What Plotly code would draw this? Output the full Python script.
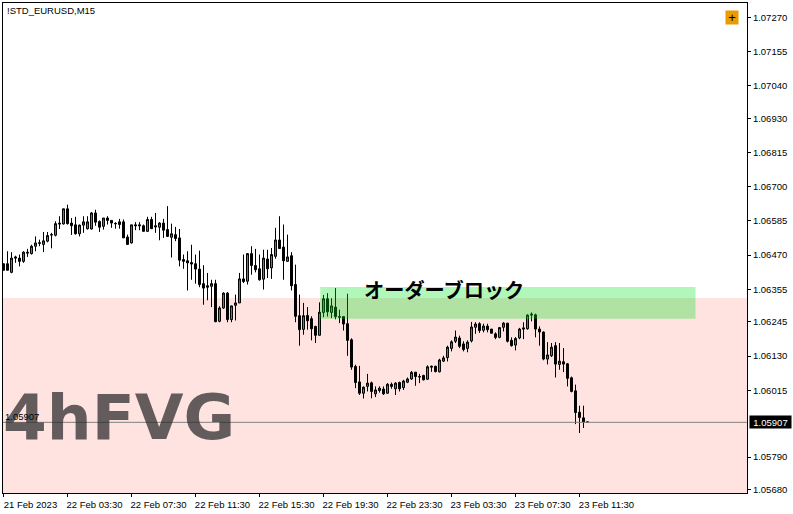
import plotly.graph_objects as go

SYMBOL = "!STD_EURUSD,M15"
LAST_PRICE = 1.05907
PRICE_TICKS = [1.07270, 1.07155, 1.07040, 1.06930, 1.06815, 1.06700, 1.06585, 1.06470,
               1.06355, 1.06245, 1.06130, 1.06015, 1.05790, 1.05680]
TIME_TICK_BARS = [0, 16, 32, 48, 64, 80, 96, 112, 128, 144]
TIME_TICK_LABELS = ["21 Feb 2023", "22 Feb 03:30", "22 Feb 07:30", "22 Feb 11:30", "22 Feb 15:30",
                    "22 Feb 19:30", "22 Feb 23:30", "23 Feb 03:30", "23 Feb 07:30", "23 Feb 11:30"]
FVG_TOP = 1.06326
ORDER_BLOCK = [1.06256, 1.06363]
ORDER_BLOCK_BARS = [79.2, 173]

# prices in points (1e-5)
opens = [106441,106441,106412,106464,106460,106449,106480,106475,106500,106512,106506,106517,106539,106537,106578,106575,
         106626,106578,106572,106542,106571,106559,106558,106612,106583,106567,106595,106587,106577,106582,106582,106531,
         106511,106572,106572,106569,106550,106590,106569,106564,106578,106556,106530,106539,106528,106455,106451,106445,
         106441,106423,106374,106367,106365,106374,106247,106292,106342,106253,106301,106309,106390,106382,106475,106435,
         106424,106389,106457,106427,106466,106521,106497,106449,106468,106371,106266,106220,106267,106256,106230,106200,
         106277,106323,106277,106295,106263,106263,106239,106185,106095,106043,106005,106028,106040,106003,106014,106019,
         106005,106035,106020,106041,106024,106042,106053,106076,106061,106065,106052,106096,106096,106077,106113,106125,
         106156,106180,106191,106171,106156,106181,106227,106239,106217,106231,106221,106205,106193,106227,106241,106183,
         106167,106191,106225,106222,106268,106269,106221,106211,106120,106131,106165,106102,106111,106104,106057,106013,
         105941,105922,105908]
highs = [106441,106483,106480,106468,106472,106483,106491,106505,106533,106522,106548,106548,106545,106584,106601,106626,
         106640,106595,106599,106573,106601,106601,106615,106623,106587,106595,106601,106587,106581,106592,106590,106539,
         106572,106581,106581,106573,106599,106599,106612,106581,106592,106635,106576,106565,106558,106472,106483,106505,
         106472,106485,106436,106410,106387,106387,106298,106345,106346,106300,106337,106410,106472,106477,106500,106491,
         106472,106488,106488,106494,106562,106601,106573,106539,106480,106438,106337,106309,106295,106264,106232,106311,
         106336,106342,106325,106359,106286,106263,106340,106190,106101,106097,106028,106070,106044,106028,106028,106028,
         106039,106041,106042,106044,106050,106058,106080,106076,106070,106067,106099,106098,106097,106121,106131,106165,
         106183,106216,106199,106180,106183,106245,106244,106244,106239,106239,106221,106210,106228,106244,106241,106193,
         106194,106225,106244,106271,106277,106273,106230,106213,106177,106174,106177,106174,106157,106107,106061,106034,
         105963,105963,105908]
lows = [106419,106419,106409,106444,106432,106444,106464,106472,106483,106500,106480,106513,106493,106533,106558,106573,
        106573,106538,106539,106533,106545,106556,106556,106569,106548,106556,106573,106562,106559,106559,106528,106506,
        106509,106554,106554,106550,106548,106559,106545,106520,106528,106531,106462,106517,106432,106424,106351,106387,
        106374,106362,106303,106318,106295,106244,106244,106289,106244,106244,106250,106309,106376,106371,106404,106412,
        106384,106354,106393,106390,106458,106491,106387,106449,106351,106244,106165,106202,106219,106183,106174,106200,
        106261,106263,106258,106254,106241,106216,106131,106084,106022,105999,105987,106011,105988,105992,106007,105999,
        106003,106020,105999,106011,106016,106039,106050,106030,106039,106048,106050,106077,106075,106075,106110,106112,
        106146,106174,106157,106146,106143,106176,106205,106208,106210,106210,106207,106187,106190,106213,106176,106162,
        106149,106187,106187,106219,106247,106193,106165,106116,106102,106127,106058,106084,106076,106028,106008,105901,
        105871,105888,105908]
closes = [106419,106419,106460,106460,106449,106480,106477,106500,106511,106510,106518,106536,106538,106576,106575,106626,
          106576,106569,106542,106571,106582,106582,106612,106581,106564,106595,106587,106578,106576,106573,106528,106506,
          106572,106569,106569,106550,106590,106559,106565,106578,106554,106533,106542,106526,106453,106449,106444,106440,
          106423,106371,106359,106362,106374,106246,106292,106342,106253,106299,106309,106390,106381,106475,106435,106421,
          106387,106460,106424,106472,106521,106492,106451,106464,106367,106264,106219,106266,106249,106222,106200,106278,
          106323,106279,106299,106263,106261,106238,106183,106093,106041,106005,106025,106039,106011,106016,106022,106003,
          106035,106028,106039,106020,106046,106053,106075,106061,106060,106050,106094,106093,106078,106117,106124,106160,
          106178,106194,106163,106152,106177,106228,106238,106216,106231,106219,106207,106193,106226,106241,106180,106165,
          106189,106221,106221,106268,106271,106221,106211,106120,106134,106160,106103,106113,106103,106055,106011,105940,
          105923,105908,105908]

to_price = lambda seq: [v / 1e5 for v in seq]
bars = list(range(len(opens)))

fig = go.Figure(go.Candlestick(
    x=bars, open=to_price(opens), high=to_price(highs), low=to_price(lows), close=to_price(closes),
    increasing=dict(line=dict(color="#000000", width=1), fillcolor="#1FA878"),
    decreasing=dict(line=dict(color="#000000", width=1), fillcolor="#000000"),
    whiskerwidth=0, showlegend=False, hoverinfo="skip"))

shapes = [
    dict(type="rect", xref="paper", yref="y", x0=0, x1=1, y0=1.0, y1=FVG_TOP,
         fillcolor="#FFE3E0", line_width=0, layer="below"),
    dict(type="line", xref="paper", yref="y", x0=0, x1=1, y0=LAST_PRICE, y1=LAST_PRICE,
         line=dict(color="#808080", width=1), layer="above"),
    dict(type="rect", xref="x", yref="y", x0=ORDER_BLOCK_BARS[0], x1=ORDER_BLOCK_BARS[1],
         y0=ORDER_BLOCK[0], y1=ORDER_BLOCK[1],
         fillcolor="rgba(0,230,30,0.31)", line_width=0, layer="above"),
]

F = "Liberation Sans"
ann = [
    dict(text=SYMBOL, xref="paper", yref="paper", x=0.0025, y=1.0, xanchor="left", yanchor="top",
         showarrow=False, font=dict(family=F, size=9.5, color="#000000")),
    dict(text="4hFVG", xref="paper", yref="y", x=0.0, y=1.05907, xanchor="left", yanchor="middle",
         xshift=-2, yshift=5, showarrow=False,
         font=dict(family="DejaVu Sans", size=63, color="rgba(40,40,40,0.72)", weight="bold")),
    dict(text="1.05907", xref="paper", yref="y", x=0.0005, y=LAST_PRICE, xanchor="left", yanchor="bottom",
         yshift=-2, showarrow=False, font=dict(family=F, size=9.5, color="#000000")),
    dict(text="オーダーブロック", xref="paper", yref="y", x=0.5925, y=1.06357, xanchor="center", yanchor="middle",
         yshift=-1, showarrow=False, font=dict(family="Noto Sans CJK JP", size=20.2, color="#000000", weight="bold")),
    dict(text="+", xref="paper", yref="paper", x=0.9805, y=0.9695, xanchor="center", yanchor="middle",
         showarrow=False, bgcolor="#EB9A00", width=12, height=13, borderpad=0,
         font=dict(family=F, size=13, color="#000000")),
    dict(text="1.05907", xref="paper", yref="y", x=1, y=LAST_PRICE, xanchor="left", yanchor="middle",
         xshift=2, showarrow=False, bgcolor="#000000", borderpad=0, width=41, height=12,
         font=dict(family=F, size=9.5, color="#FFFFFF")),
]

fig.update_layout(
    width=793, height=514, autosize=False, margin=dict(l=3, r=46, t=3, b=21),
    paper_bgcolor="#FFFFFF", plot_bgcolor="#FFFFFF", shapes=shapes, annotations=ann, showlegend=False,
    xaxis=dict(range=[-0.125, 185.875], rangeslider=dict(visible=False), showgrid=False, zeroline=False,
               tickmode="array", tickvals=TIME_TICK_BARS, ticktext=TIME_TICK_LABELS,
               ticks="outside", ticklen=3, tickcolor="#000000", tickwidth=1,
               ticklabelshift=27, ticklabeloverflow="allow", ticklabelstandoff=0,
               tickfont=dict(family=F, size=9.5, color="#000000"),
               showline=True, linecolor="#000000", linewidth=1, mirror=True),
    yaxis=dict(range=[1.05669, 1.07319], side="right", showgrid=False, zeroline=False,
               tickmode="array", tickvals=PRICE_TICKS, ticktext=[f"{v:.5f}" for v in PRICE_TICKS],
               ticks="outside", ticklen=3, tickcolor="#000000", tickwidth=1,
               tickfont=dict(family=F, size=9.5, color="#000000"),
               showline=True, linecolor="#000000", linewidth=1, mirror=True),
)
fig.write_html("out.html", config=dict(displayModeBar=False),
               post_script="document.body.style.margin='0';document.documentElement.style.overflow='hidden';")
